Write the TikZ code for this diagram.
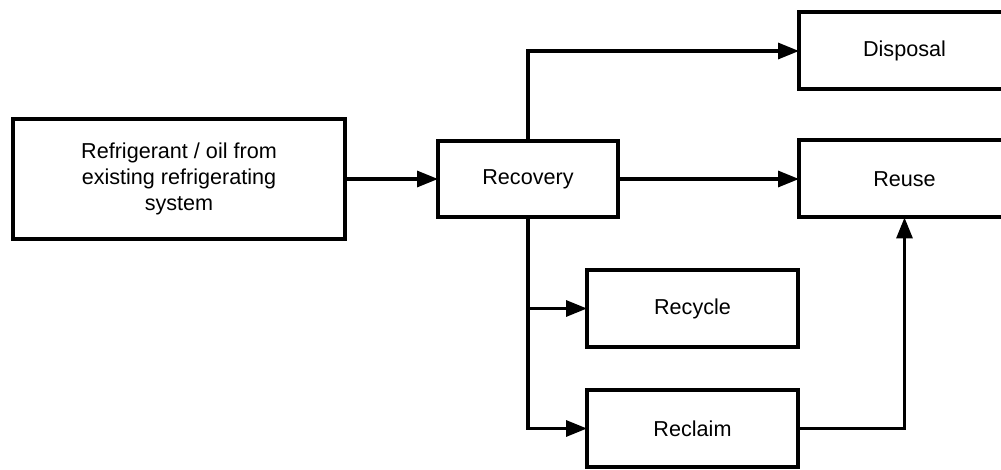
\documentclass[tikz,border=0pt]{standalone}
\usepackage{fontspec}
\setmainfont{Liberation Sans}
\usepackage{tikz}
\usetikzlibrary{arrows.meta,positioning,calc}
\tikzstyle{source} = [rectangle, minimum width=166pt, minimum height=60pt, text centered, draw=black, line width=2pt, outer sep=0pt, align=center]
\tikzstyle{process} = [rectangle, minimum width=90pt, minimum height=38pt, text centered, draw=black, line width=2pt, outer sep=0pt]
\tikzstyle{outcome} = [rectangle, minimum width=105.5pt, minimum height=38.5pt, text centered, draw=black, line width=2pt, outer sep=0pt]
\tikzstyle{flow} = [-{Triangle[length=10.5pt,width=8pt]}, line width=1.6pt]

\begin{document}
\begin{tikzpicture}[node distance=46.5pt, font=\fontsize{10.8}{12.8}\selectfont]
			\clip (-89.5pt,89.5pt) rectangle (411pt,-145.5pt);
			\node[source] (src) at (0,0) {Refrigerant / oil from\\existing refrigerating\\system};
			\node[process, right=of src] (rec) {Recovery};
			\node[outcome, right=90.5pt of rec] (reuse) {Reuse};
			\node[outcome, above=25.5pt of reuse] (disp) {Disposal};
			\node[outcome, below right=26.5pt and 29.5pt of rec.south] (recyc) {Recycle};
			\node[outcome, below=21.5pt of recyc] (recl) {Reclaim};
			
			%arrow
			\draw [flow] (src) -- (rec);
			\draw [flow] (rec) -- (reuse);
			\draw [flow] (rec.north) |- (disp.west);
			\draw [flow] (rec.south) |- (recyc.west);
			\draw [flow] (rec.south) |- (recl.west);
			\draw [flow] (recl.east) -| (reuse.south);
			
		\end{tikzpicture}
\end{document}
